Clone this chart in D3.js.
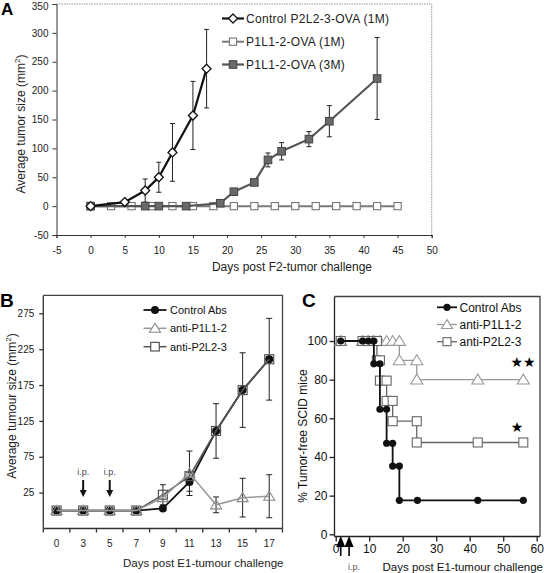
<!DOCTYPE html>
<html><head><meta charset="utf-8">
<script src="https://cdn.jsdelivr.net/npm/d3@7"></script>
<style>body{margin:0;background:#fff}svg{display:block}text{font-family:"Liberation Sans",Arial,Helvetica,sans-serif}</style>
</head><body>
<svg id="c" width="544" height="573"></svg>
<script>
// ---------- Panel A data ----------
const aControlDays = [0,5,8,10,12,15,17];
const aControlVals = [0,7,27,50,93,157,238];
const aControlErr  = [0,3,20,26,50,59,68];
const a1MDays = [0,3,6,9,12,15,18,21,24,27,30,33,36,39,42,45];
const a1MVals = [0,0,0,0,0,0,0,0,0,0,0,0,0,0,0,0];
const a3MDays = [0,8,10,14,19,21,24,26,28,32,35,42];
const a3MVals = [0,0,0,0,5,25,41,80,95,116,147,221];
const a3MErr  = [0,0,0,0,2,3,5,12,15,13,27,71];
const aXTicks = [-5,0,5,10,15,20,25,30,35,40,45,50];
const aYTicks = [-50,0,50,100,150,200,250,300,350];
const aLegend = ["Control P2L2-3-OVA (1M)","P1L1-2-OVA (1M)","P1L1-2-OVA (3M)"];

// ---------- Panel B data ----------
const bDays = ["0","3","5","7","9","11","13","15","17"];
const bControl    = [0,0,0,0,3,40,111,168,211];
const bControlErr = [0,0,0,0,0,13,38,52,57];
const bP1L1       = [0,0,0,0,18,52,8,18,20];
const bP1L1Err    = [0,0,0,0,0,31,11,27,30];
const bP2L2       = [0,0,0,0,22,48,111,168,211];
const bP2L2Err    = [0,0,0,0,14,0,0,0,0];
const bYTicks = [25,75,125,175,225,275];
const bIpDays = ["3","5"];
const bLegend = ["Control Abs","anti-P1L1-2","anti-P2L2-3"];

// ---------- Panel C data (survival curve vertices) ----------
const cControlDays = [1.5,8,9.7,11.4,11.4,13.2,13.2,15.2,15.2,17,17,19,19,24.4,42.4,56];
const cControlVals = [100,100,100,100,88.2,88.2,64.7,64.7,47.1,47.1,35.3,35.3,17.6,17.6,17.6,17.6];
const cP1L1Days = [1.5,8,9.7,11.4,13.2,15.2,17,19,19,24.2,24.2,42.4,56];
const cP1L1Vals = [100,100,100,100,100,100,100,100,90,90,80,80,80];
const cP2L2Days = [1.5,8,9.7,11.4,12.3,12.3,13.2,13.2,15.2,15.2,17,17,24.2,24.2,42.4,56];
const cP2L2Vals = [100,100,100,100,100,90,90,79.5,79.5,69,69,58.5,58.5,47.5,47.5,47.5];
const cXTicks = [0,10,20,30,40,50,60];
const cYTicks = [0,20,40,60,80,100];
const cIpDays = [1.5,4];
const cLegend = ["Control Abs","anti-P1L1-2","anti-P2L2-3"];

const svg = d3.select("#c");
const zip = (xs, ys, es) => xs.map((x,i)=>({x, y: ys[i], e: es ? es[i] : 0}));
const fmt = d => String(d); // plain hyphen minus like the original

function diamond(g, x, y, r, fill, stroke){
  g.append("path").attr("d", `M${x},${y-r}L${x+r},${y}L${x},${y+r}L${x-r},${y}Z`)
   .attr("fill", fill).attr("stroke", stroke).attr("stroke-width",1.3);
}
function square(g, x, y, r, fill, stroke, sw){
  g.append("rect").attr("x", x-r).attr("y", y-r).attr("width", 2*r).attr("height", 2*r)
   .attr("fill", fill).attr("stroke", stroke).attr("stroke-width", sw||1.2);
}
function tri(g, x, y, r, fill, stroke){
  g.append("path").attr("d", `M${x},${y-r}L${x+r*1.1},${y+r*0.8}L${x-r*1.1},${y+r*0.8}Z`)
   .attr("fill", fill).attr("stroke", stroke).attr("stroke-width",1.1);
}
function errBars(g, pts, xs, ys, cap){
  pts.filter(p=>p.e>0).forEach(p=>{
    const x = xs(p.x), y1 = ys(p.y+p.e), y2 = ys(p.y-p.e);
    g.append("line").attr("x1",x).attr("x2",x).attr("y1",y1).attr("y2",y2).attr("stroke","#222").attr("stroke-width",1);
    [y1,y2].forEach(yy=>g.append("line").attr("x1",x-cap).attr("x2",x+cap).attr("y1",yy).attr("y2",yy).attr("stroke","#222").attr("stroke-width",1));
  });
}

// ================= PANEL A =================
{
  const g = svg.append("g");
  const x = d3.scaleLinear().domain([-5,50]).range([56.5,431.7]);
  const y = d3.scaleLinear().domain([-50,350]).range([235,4]);
  g.append("path").attr("d",`M${x(-5)},${y(350)}H${x(50)}V${y(-50)}`).attr("fill","none")
   .attr("stroke","#999").attr("stroke-width",1).attr("stroke-dasharray","1.5,1");
  const ya = g.append("g").attr("transform",`translate(${x(-5)},0)`)
    .call(d3.axisLeft(y).tickValues(aYTicks).tickFormat(fmt).tickSize(4).tickPadding(4));
  const xa = g.append("g").attr("transform",`translate(0,${y(-50)})`)
    .call(d3.axisBottom(x).tickValues(aXTicks).tickFormat(fmt).tickSize(3).tickPadding(9));
  [ya,xa].forEach(a=>{a.selectAll("text").attr("font-size",10).attr("fill","#222");
    a.selectAll("path,line").attr("stroke","#333");});
  ya.selectAll(".tick text").filter(d=>d===350).attr("dy","0.5em");
  g.append("text").attr("x",292).attr("y",271).attr("text-anchor","middle").attr("font-size",12).attr("fill","#222").text("Days post F2-tumor challenge");
  const yt = g.append("text").attr("transform","translate(25,124) rotate(-90)").attr("text-anchor","middle").attr("font-size",12).attr("fill","#222");
  yt.append("tspan").text("Average tumor size (mm");
  yt.append("tspan").attr("font-size",8).attr("dy",-5).text("2");
  yt.append("tspan").attr("dy",5).text(")");
  g.append("text").attr("x",1).attr("y",15).attr("font-size",17).attr("font-weight","bold").text("A");

  const line = d3.line().x(d=>x(d.x)).y(d=>y(d.y));
  const c1 = zip(aControlDays,aControlVals,aControlErr);
  const m1 = zip(a1MDays,a1MVals);
  const m3 = zip(a3MDays,a3MVals,a3MErr);
  errBars(g,c1,x,y,2.5); errBars(g,m3,x,y,2.5);
  g.append("path").datum(m1).attr("d",line).attr("fill","none").attr("stroke","#7a7a7a").attr("stroke-width",2);
  m1.forEach(p=>square(g,x(p.x),y(p.y),3.6,"#fff","#777",1.1));
  g.append("path").datum(m3).attr("d",line).attr("fill","none").attr("stroke","#555").attr("stroke-width",2.2);
  m3.forEach(p=>square(g,x(p.x),y(p.y),3.8,"#6a6a6a","#444",1));
  g.append("path").datum(c1).attr("d",line).attr("fill","none").attr("stroke","#111").attr("stroke-width",2.2);
  c1.forEach(p=>diamond(g,x(p.x),y(p.y),4.5,"#fff","#111"));
  const ly = [18.5,41.7,64.5];
  const lx1 = 222, lx2 = 244;
  g.append("line").attr("x1",lx1).attr("x2",lx2).attr("y1",ly[0]).attr("y2",ly[0]).attr("stroke","#111").attr("stroke-width",2.2);
  diamond(g,(lx1+lx2)/2,ly[0],4.5,"#fff","#111");
  g.append("line").attr("x1",lx1).attr("x2",lx2).attr("y1",ly[1]).attr("y2",ly[1]).attr("stroke","#7a7a7a").attr("stroke-width",2);
  square(g,(lx1+lx2)/2,ly[1],3.6,"#fff","#777",1.1);
  g.append("line").attr("x1",lx1).attr("x2",lx2).attr("y1",ly[2]).attr("y2",ly[2]).attr("stroke","#555").attr("stroke-width",2.2);
  square(g,(lx1+lx2)/2,ly[2],3.8,"#6a6a6a","#444",1);
  aLegend.forEach((t,i)=>g.append("text").attr("x",246).attr("y",ly[i]+4.2).attr("font-size",12).attr("fill","#222").attr("letter-spacing",0.3).text(t));
}

// ================= PANEL B =================
{
  const g = svg.append("g");
  const x = d3.scaleBand().domain(bDays).range([43.3,282.5]).padding(0);
  const xc = d => x(d) + x.bandwidth()/2;
  const y = d3.scaleLinear().domain([-25,300]).range([528.5,295.4]);
  g.append("path").attr("d",`M43.3,295.4H282.5V528.5`).attr("fill","none").attr("stroke","#444").attr("stroke-width",1.3);
  const ya = g.append("g").attr("transform","translate(43.3,0)")
    .call(d3.axisLeft(y).tickValues(bYTicks).tickSize(4).tickPadding(5));
  ya.selectAll("text").attr("font-size",10).attr("fill","#222");
  ya.selectAll("path,line").attr("stroke","#333").attr("stroke-width",1.3);
  ya.select(".domain").attr("d",`M-0,${y(300)}V${y(-25)}`);
  g.append("line").attr("x1",43.3).attr("x2",282.5).attr("y1",528.5).attr("y2",528.5).attr("stroke","#333").attr("stroke-width",1.3);
  const edges = bDays.map(d=>x(d)).concat([282.5]);
  edges.forEach(e=>g.append("line").attr("x1",e).attr("x2",e).attr("y1",528.5).attr("y2",532.5).attr("stroke","#333").attr("stroke-width",1.3));
  bDays.forEach(d=>g.append("text").attr("x",xc(d)).attr("y",547).attr("text-anchor","middle").attr("font-size",10).attr("fill","#222").text(d));
  g.append("text").attr("x",123).attr("y",567).attr("font-size",11.5).attr("fill","#222").text("Days post E1-tumour challenge");
  const yt = g.append("text").attr("transform","translate(16,406) rotate(-90)").attr("text-anchor","middle").attr("font-size",12).attr("fill","#222");
  yt.append("tspan").text("Average tumour size (mm");
  yt.append("tspan").attr("font-size",8).attr("dy",-5).text("2");
  yt.append("tspan").attr("dy",5).text(")");
  g.append("text").attr("x",0).attr("y",307).attr("font-size",19).attr("font-weight","bold").text("B");
  bIpDays.forEach(d=>{
    const cx = xc(d);
    g.append("text").attr("x",cx).attr("y",475).attr("text-anchor","middle").attr("font-size",9).attr("fill","#444").text("i.p.");
    g.append("line").attr("x1",cx).attr("x2",cx).attr("y1",480).attr("y2",491).attr("stroke","#111").attr("stroke-width",2);
    g.append("path").attr("d",`M${cx-3.5},${490}L${cx+3.5},${490}L${cx},${497}Z`).attr("fill","#111");
  });
  const line = d3.line().x(d=>xc(d.x)).y(d=>y(d.y));
  const ctl = zip(bDays,bControl,bControlErr);
  const p1 = zip(bDays,bP1L1,bP1L1Err);
  const p2 = zip(bDays,bP2L2,bP2L2Err);
  const xsB = d=>xc(d);
  errBars(g,ctl,xsB,y,3); errBars(g,p1,xsB,y,3); errBars(g,p2,xsB,y,3);
  g.append("path").datum(ctl).attr("d",line).attr("fill","none").attr("stroke","#111").attr("stroke-width",1.8);
  ctl.forEach(p=>g.append("circle").attr("cx",xc(p.x)).attr("cy",y(p.y)).attr("r",4).attr("fill","#111"));
  g.append("path").datum(p2).attr("d",line).attr("fill","none").attr("stroke","#555").attr("stroke-width",1.5);
  p2.forEach(p=>square(g,xc(p.x),y(p.y),4.5,"none","#555",1.2));
  g.append("path").datum(p1).attr("d",line).attr("fill","none").attr("stroke","#999").attr("stroke-width",1.5);
  p1.forEach(p=>tri(g,xc(p.x),y(p.y),5,"none","#888"));
  const ly = [310,328.3,346.7], lx1=143.5, lx2=166.5, lm=(lx1+lx2)/2;
  g.append("line").attr("x1",lx1).attr("x2",lx2).attr("y1",ly[0]).attr("y2",ly[0]).attr("stroke","#111").attr("stroke-width",1.8);
  g.append("circle").attr("cx",lm).attr("cy",ly[0]).attr("r",4).attr("fill","#111");
  g.append("line").attr("x1",lx1).attr("x2",lx2).attr("y1",ly[1]).attr("y2",ly[1]).attr("stroke","#999").attr("stroke-width",1.5);
  tri(g,lm,ly[1],5,"#fff","#888");
  g.append("line").attr("x1",lx1).attr("x2",lx2).attr("y1",ly[2]).attr("y2",ly[2]).attr("stroke","#555").attr("stroke-width",1.5);
  square(g,lm,ly[2],4.3,"#fff","#555",1.2);
  bLegend.forEach((t,i)=>g.append("text").attr("x",170).attr("y",ly[i]+4).attr("font-size",11).attr("fill","#111").text(t));
}

// ================= PANEL C =================
{
  const g = svg.append("g");
  const x = d3.scaleLinear().domain([0,60]).range([335.7,536.7]);
  const y = d3.scaleLinear().domain([0,100]).range([534.3,341]);
  g.append("path").attr("d",`M334.5,296.5H540V536.5`).attr("fill","none").attr("stroke","#444").attr("stroke-width",1.3);
  const ya = g.append("g").attr("transform","translate(334.5,0)")
    .call(d3.axisLeft(y).tickValues(cYTicks).tickSize(5).tickPadding(2));
  ya.select(".domain").attr("d",`M0,296.5V536.5`);
  const xa = g.append("g").attr("transform","translate(0,536.5)")
    .call(d3.axisBottom(x).tickValues(cXTicks).tickSize(5).tickPadding(3));
  xa.select(".domain").attr("d",`M334.5,0H540`);
  [ya,xa].forEach(a=>{a.selectAll("text").attr("font-size",12).attr("fill","#111");a.selectAll("path,line").attr("stroke","#222").attr("stroke-width",1.3);});
  g.append("text").attr("x",543).attr("y",570.5).attr("text-anchor","end").attr("font-size",11.5).attr("fill","#111").text("Days post E1-tumour challenge");
  g.append("text").attr("transform","translate(307,436) rotate(-90)").attr("text-anchor","middle").attr("font-size",12).attr("fill","#111").text("% Tumor-free SCID mice");
  g.append("text").attr("x",302).attr("y",307).attr("font-size",19).attr("font-weight","bold").text("C");
  g.append("text").attr("x",354).attr("y",570).attr("text-anchor","middle").attr("font-size",9).attr("fill","#555").text("i.p.");
  cIpDays.forEach(d=>{
    const cx = x(d);
    g.append("path").attr("d",`M${cx},536L${cx+4.5},547L${cx-4.5},547Z`).attr("fill","#000");
    g.append("line").attr("x1",cx).attr("x2",cx).attr("y1",546).attr("y2",556).attr("stroke","#000").attr("stroke-width",1.6);
  });
  const line = d3.line().x(d=>x(d.x)).y(d=>y(d.y));
  const c = zip(cControlDays,cControlVals), p1 = zip(cP1L1Days,cP1L1Vals), p2 = zip(cP2L2Days,cP2L2Vals);
  g.append("path").datum(p1).attr("d",line).attr("fill","none").attr("stroke","#999").attr("stroke-width",1.3);
  p1.forEach(p=>tri(g,x(p.x),y(p.y),5.5,"#fff","#999"));
  g.append("path").datum(p2).attr("d",line).attr("fill","none").attr("stroke","#666").attr("stroke-width",1.3);
  p2.forEach(p=>square(g,x(p.x),y(p.y),4.5,"#fff","#666",1.1));
  g.append("path").datum(c).attr("d",line).attr("fill","none").attr("stroke","#111").attr("stroke-width",1.8);
  c.forEach(p=>g.append("circle").attr("cx",x(p.x)).attr("cy",y(p.y)).attr("r",3.6).attr("fill","#111"));
  g.append("text").attr("x",523).attr("y",367).attr("text-anchor","middle").attr("font-size",14).style("font-family","'DejaVu Sans',sans-serif").attr("fill","#000").text("★★");
  g.append("text").attr("x",517).attr("y",432).attr("text-anchor","middle").attr("font-size",14).style("font-family","'DejaVu Sans',sans-serif").attr("fill","#000").text("★");
  const ly = [307.3,324.5,341.7], lx1=437, lx2=457, lm=(lx1+lx2)/2;
  g.append("line").attr("x1",lx1).attr("x2",lx2).attr("y1",ly[0]).attr("y2",ly[0]).attr("stroke","#111").attr("stroke-width",1.8);
  g.append("circle").attr("cx",lm).attr("cy",ly[0]).attr("r",3.6).attr("fill","#111");
  g.append("line").attr("x1",lx1).attr("x2",lx2).attr("y1",ly[1]).attr("y2",ly[1]).attr("stroke","#999").attr("stroke-width",1.3);
  tri(g,lm,ly[1],5,"#fff","#999");
  g.append("line").attr("x1",lx1).attr("x2",lx2).attr("y1",ly[2]).attr("y2",ly[2]).attr("stroke","#666").attr("stroke-width",1.3);
  square(g,lm,ly[2],4,"#fff","#666",1.1);
  cLegend.forEach((t,i)=>g.append("text").attr("x",459.5).attr("y",ly[i]+4.2).attr("font-size",12).attr("fill","#111").text(t));
}
</script>
</body></html>
